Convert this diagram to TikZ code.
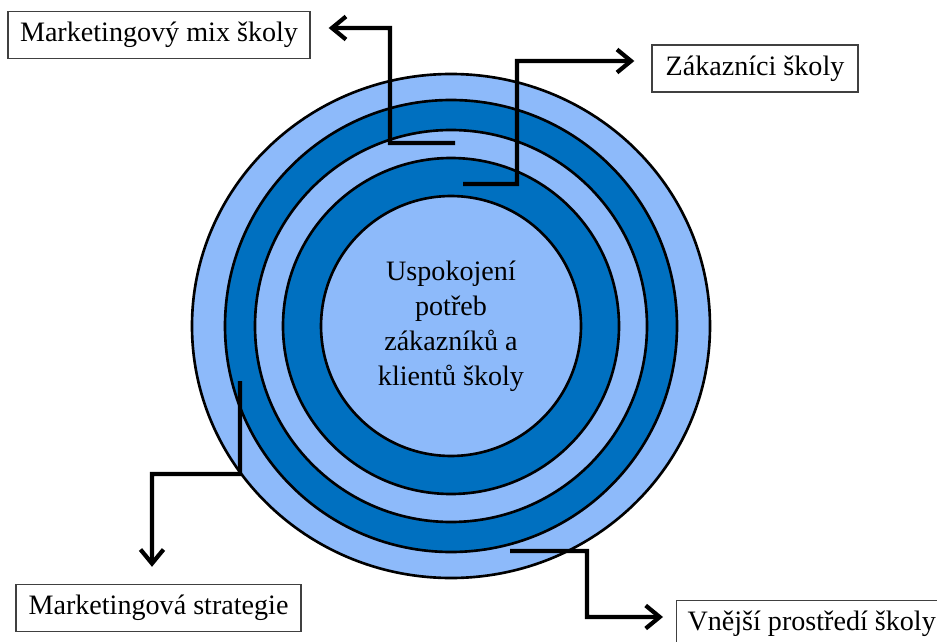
\documentclass[tikz,border=0pt]{standalone}
\usepackage{fontspec}
\setmainfont{Liberation Serif}
\usetikzlibrary{arrows.meta,positioning}
\definecolor{ringlight}{RGB}{141,186,250}
\definecolor{ringdark}{RGB}{0,112,192}

\begin{document}
\begin{tikzpicture}[
			x=0.02cm, y=-0.02cm,
			ring/.style={draw=black,line width=1.5pt},
			namebox/.style={draw=black!75,fill=white,line width=0.8pt,
			inner sep=0pt,minimum height=0.94cm,font=\fontsize{16}{20}\selectfont},
			link/.style={line width=2.4pt,-{Straight Barb[length=0.28cm,width=0.46cm]}}
			]
			\useasboundingbox (0,0) rectangle (937,642);
			% rings, outer to inner
			\coordinate (c) at (451,326);
			\draw[ring,fill=ringlight] (c) ellipse[x radius=259,y radius=252];
			\foreach \r/\col in {226/ringdark,196/ringlight,168/ringdark}
				\draw[ring,fill=\col] (c) circle[radius=\r];
			\node[ring,fill=ringlight,circle,minimum size=5.2cm,align=center,
				font=\fontsize{16}{20}\selectfont] (goal) at (c)
				{Uspokojení\\potřeb\\zákazníků a\\klientů školy};
			% labels
			\node[namebox,minimum width=6.04cm] (mix) at (159,35) {Marketingový mix školy};
			\node[namebox,minimum width=4.12cm] (client) at (755,68.5) {Zákazníci školy};
			\node[namebox,minimum width=5.7cm] (strategy) at (158.5,608) {Marketingová strategie};
			\node[namebox,minimum width=5.4cm,anchor=west] (environ) at (676,624) {Vnější prostředí školy};
			% connectors
			\coordinate (mixfrom) at (455,143);
			\coordinate (clientfrom) at (463,184);
			\coordinate (strategyfrom) at (240,381);
			\coordinate (environfrom) at (510,551);
			\draw[link] (mixfrom) -| (390,28) -- ([xshift=0.36cm,yshift=0.14cm]mix.east);
			\draw[link] (clientfrom) -| (517,61) -- ([xshift=-0.34cm,yshift=0.15cm]client.west);
			\draw[link] (strategyfrom) |- (152,474) -- ([xshift=-0.13cm,yshift=0.34cm]strategy.north);
			\draw[link] (environfrom) -| (587,617) -- ([xshift=-0.26cm,yshift=0.14cm]environ.west);
		\end{tikzpicture}
\end{document}
